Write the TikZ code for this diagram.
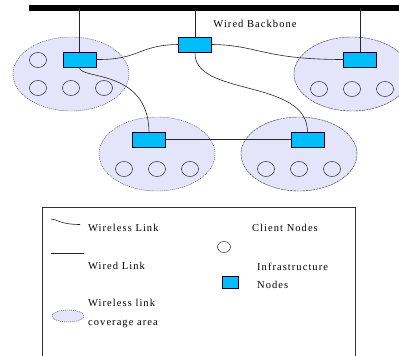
\documentclass[tikz,border=0pt]{standalone}
\usepackage{fontspec}
\setmainfont[LetterSpace=10]{Liberation Serif}
\usepackage{tikz}
\usetikzlibrary{shapes.geometric}
\definecolor{covfill}{RGB}{228,228,250}
\definecolor{infrafill}{RGB}{0,190,250}

\begin{document}
\begin{tikzpicture}[
            x = 1pt, y = -1pt, % pixel like units
            font = \fontsize{10.5}{12}\selectfont,
            infra/.style = {shape=rectangle, draw=black!80!blue, fill=infrafill, semithick, minimum width=33pt, minimum height=15pt, inner sep=0pt},
            client/.style = {shape=ellipse, draw=black, thin, minimum width=17pt, minimum height=15pt, inner sep=0pt},
            cover/.style = {shape=ellipse, draw=black!80, fill=covfill, minimum width=116pt, minimum height=74pt, inner sep=0pt},
            dotcover/.style = {cover, dash pattern=on 1pt off 1pt},
            finecover/.style = {cover, dash pattern=on 2.5pt off 0.7pt},
            wireless/.style = {draw=black!85, semithick},
            wired/.style = {draw=black!85, semithick}
        ]
\useasboundingbox (0,0) rectangle (399,356);

% coverage areas
\node[dotcover] (CovA) at (71,74) {};
\node[finecover] (CovB) at (352,74) {};
\node[dotcover] (CovC) at (157,154) {};
\node[finecover] (CovD) at (299,154) {};

% backbone
\coordinate (BBL) at (29,8);
\coordinate (BBR) at (402,8);
\draw[line width=6pt] (BBL) -- (BBR);
\node[anchor=center] (BBtext) at (255,24) {Wired Backbone};

% infrastructure nodes
\node[infra] (A) at (79.5,59.5) {};
\node[infra] (M) at (195,44.5) {};
\node[infra] (B) at (360,59.5) {};
\node[infra] (C) at (149,139.5) {};
\node[infra] (D) at (307.5,139.5) {};

% client nodes
\node[client] (A1) at (38,60) {};
\node[client] (A2) at (38,88) {};
\node[client] (A3) at (71,88) {};
\node[client] (A4) at (104,88) {};
\node[client] (B1) at (319,89) {};
\node[client] (B2) at (352,89) {};
\node[client] (B3) at (385,89) {};
\node[client] (C1) at (124,169) {};
\node[client] (C2) at (157,169) {};
\node[client] (C3) at (190,169) {};
\node[client] (D1) at (266,169) {};
\node[client] (D2) at (299,169) {};
\node[client] (D3) at (332,169) {};

% drops from the backbone
 \path [wired] (A.north) edge (A.north |- BBL);
 \path [wired] (M.north) edge (M.north |- BBL);
 \path [wired] (B.north) edge (B.north |- BBL);

% links
 \draw [wireless] (A.east) .. controls (140,60) and (138,45) .. (M.west);
 \draw [wireless] (M.east) .. controls (258,45) and (262,59.5) .. (B.west);
 \draw [wireless] (A.south) .. controls (79,80) and (148,68) .. (C.north);
 \draw [wireless] (M.south) .. controls (193,97) and (307,78) .. (D.north);
 \path [wired] (C.east) edge (D.west);

% legend
\draw[black!80, semithick] (42,362) -- (42,207) -- (355,207) -- (355,362);
\coordinate (WLa) at (51,219);
\coordinate (WLb) at (80,224.5);
\draw [wireless] (WLa) .. controls (57,219) and (60,224.5) .. (WLb);
\node[anchor=west, inner sep=0pt] (WLtext) at (88,228) {Wireless Link};
\coordinate (WDa) at (51,253);
\coordinate (WDb) at (84,253);
\path [wired] (WDa) edge (WDb);
\node[anchor=west, inner sep=0pt] (WDtext) at (88,266) {Wired Link};
\node[dotcover, minimum width=32pt, minimum height=12pt] (LegCov) at (68,316) {};
\node[anchor=west, inner sep=0pt, align=left, font=\fontsize{10.5}{19}\selectfont] (Covtext) at (88,313.5) {Wireless link\\coverage area};
\node[client, minimum width=13pt, minimum height=11pt] (LegClient) at (224,247) {};
\node[anchor=west, inner sep=0pt] (Clienttext) at (252,228) {Client Nodes};
\node[infra, minimum width=16pt, minimum height=12pt] (LegInfra) at (230,282) {};
\node[anchor=west, inner sep=0pt, align=left, font=\fontsize{10.5}{18}\selectfont] (Infratext) at (257,276) {Infrastructure\\Nodes};
\end{tikzpicture}
\end{document}
